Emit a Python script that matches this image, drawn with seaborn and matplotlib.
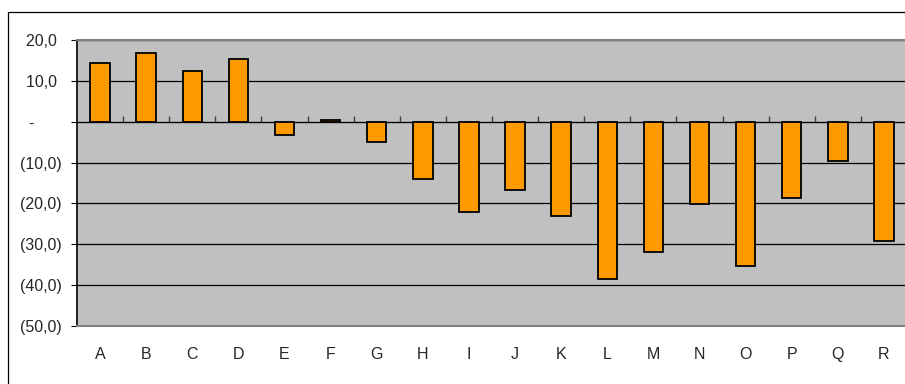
import matplotlib
matplotlib.use("Agg")
import matplotlib.pyplot as plt
import seaborn as sns
import pandas as pd
from matplotlib.patches import Rectangle

# values
categories = list("ABCDEFGHIJKLMNOPQR")
values = [14.3, 16.7, 12.4, 15.3, -3.3, 0.5, -4.9, -13.9, -22.0,
          -16.7, -23.0, -38.5, -31.9, -20.1, -35.3, -18.6, -9.5, -29.1]
yticks = [20, 10, 0, -10, -20, -30, -40, -50]
ytick_labels = ["20,0 ", "10,0 ", "-      ", "(10,0)", "(20,0)",
                "(30,0)", "(40,0)", "(50,0)"]

df = pd.DataFrame({"cat": categories, "val": values})

sns.set_style("white")
plt.rcParams["font.family"] = ["Liberation Sans", "DejaVu Sans"]

fig = plt.figure(figsize=(9.05, 3.84), dpi=100)
ax = fig.add_axes([77 / 905, 1 - 326 / 384, 830 / 905, 286 / 384])

# outer chart border (runs off the right and bottom)
fig.patches.append(Rectangle((7.5 / 905, -0.1), 1.2, 1 - 11.5 / 384 + 0.1,
                             transform=fig.transFigure, fill=False,
                             edgecolor="black", linewidth=0.9))

ax.set_facecolor("#C0C0C0")
sns.barplot(data=df, x="cat", y="val", color="#FF9900", width=0.42,
            edgecolor="black", linewidth=1.3, saturation=1, ax=ax)

ax.set_xlim(-0.5, len(categories) - 0.5)
ax.set_ylim(-50, 20)
ax.set_yticks(yticks)
ax.set_yticklabels(ytick_labels)
ax.set_xlabel("")
ax.set_ylabel("")

ax.set_axisbelow(True)
ax.yaxis.grid(True, color="black", linewidth=0.9)
ax.xaxis.grid(False)

for side in ["top", "bottom"]:
    ax.spines[side].set_color("#808080")
    ax.spines[side].set_linewidth(1.5)
ax.spines["right"].set_visible(False)
ax.spines["left"].set_color("black")
ax.spines["left"].set_linewidth(1.2)

ax.tick_params(axis="y", direction="out", length=4, width=0.8, color="black",
               pad=7, labelsize=11.5, left=True)
ax.tick_params(axis="x", length=0, pad=15, labelsize=11.5)

# category axis at zero with ticks between categories
zero_frac = (0 - (-50)) / (20 - (-50))
sec = ax.secondary_xaxis(zero_frac)
sec.set_xticks([i + 0.5 for i in range(len(categories) - 1)])
sec.set_xticklabels([])
sec.spines["bottom"].set_color("#606060")
sec.spines["bottom"].set_linewidth(1.2)
sec.tick_params(axis="x", direction="out", length=4, width=1.0, color="#404040")

fig.savefig("out.png", dpi=100)
